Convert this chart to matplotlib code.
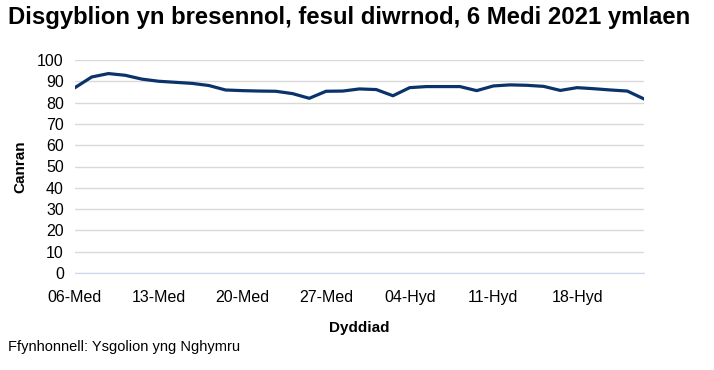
import matplotlib.pyplot as plt

plt.rcParams['font.family'] = ['Liberation Sans', 'DejaVu Sans']

# school days (weekdays) from 06-Med 2021, percentage attending
attendance = [87.0, 92.0, 93.6, 92.8, 91.0, 90.0, 89.5, 89.0, 88.0, 85.9,
              85.6, 85.4, 85.3, 84.2, 82.0, 85.3, 85.4, 86.4, 86.1, 83.2,
              87.0, 87.5, 87.5, 87.5, 85.6, 87.8, 88.3, 88.1, 87.6, 85.7,
              87.0, 86.5, 85.9, 85.4, 81.7]
tick_labels = ['06-Med', '13-Med', '20-Med', '27-Med', '04-Hyd', '11-Hyd', '18-Hyd']
tick_every = 5

days = list(range(len(attendance)))

fig = plt.figure(figsize=(7.14, 3.7), dpi=100)
ax = fig.add_axes([0.105, 0.262, 0.797, 0.576])

ax.plot(days, attendance, color='#0b336b', linewidth=2.3, solid_joinstyle='round')

ax.set_xlim(0, len(attendance) - 1)
ax.set_ylim(0, 100)
ax.set_yticks(range(0, 101, 10))
ax.set_xticks(days[::tick_every])
ax.set_xticklabels(tick_labels)
ax.tick_params(length=0, labelsize=11.5)
ax.tick_params(axis='x', pad=12)
ax.tick_params(axis='y', pad=8)
ax.grid(axis='y', color='#d9d9d9', linewidth=1)
ax.set_axisbelow(True)
for s in ['top', 'right', 'left']:
    ax.spines[s].set_visible(False)
ax.spines['bottom'].set_color('#c5d9f1')

ax.set_ylabel('Canran', fontsize=11, fontweight='bold', labelpad=7)
ax.set_xlabel('Dyddiad', fontsize=11, fontweight='bold', labelpad=12)

fig.text(0.011, 0.952, 'Disgyblion yn bresennol, fesul diwrnod, 6 Medi 2021 ymlaen',
         fontsize=17.2, fontweight='bold', va='center', ha='left')
fig.text(0.011, 0.062, 'Ffynhonnell: Ysgolion yng Nghymru', fontsize=10.5, va='center', ha='left')

fig.savefig('out.png', dpi=100)
